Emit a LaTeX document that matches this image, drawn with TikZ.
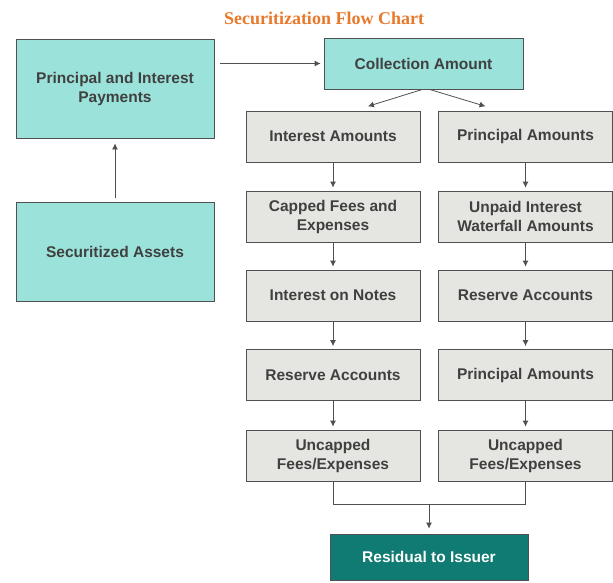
\documentclass[tikz,border=0pt]{standalone}
\usepackage{fontspec}
\setmainfont{Liberation Sans}
\newfontfamily\titlefont{Liberation Serif}
\usepackage{tikz}
\usetikzlibrary{arrows.meta,calc}
\definecolor{boxcyan}{HTML}{9BE3DA}
\definecolor{boxgray}{HTML}{E5E5E1}
\definecolor{boxteal}{HTML}{0F7B72}
\definecolor{edgegray}{HTML}{505050}
\definecolor{txtgray}{HTML}{404040}
\definecolor{titleorange}{HTML}{E8792B}
\tikzstyle{base}=[draw=edgegray,line width=0.8pt,align=center,inner sep=0pt,font=\bfseries\fontsize{15.5}{19}\selectfont]
\tikzstyle{cyanbox}=[base,fill=boxcyan,text=txtgray,minimum width=198pt]
\tikzstyle{graybox}=[base,fill=boxgray,text=txtgray,minimum width=174pt,minimum height=51pt]
\tikzstyle{tealbox}=[base,fill=boxteal,text=white,minimum width=198pt,minimum height=46pt]
\tikzstyle{flow}=[draw=edgegray,line width=0.8pt,-{Latex[length=6pt,width=6pt]},shorten >=3pt]

\begin{document}
\begin{tikzpicture}[x=1pt,y=-1pt]
\useasboundingbox (0,0) rectangle (613,582);
\node[font=\titlefont\bfseries\fontsize{18}{20}\selectfont,text=titleorange] at (324,18) (Title) {Securitization Flow Chart};
\node[cyanbox, minimum height=99pt] at (115,88.5) (Pay) {Principal and Interest\\Payments};
\node[cyanbox, minimum height=99pt] at (115,251.5) (Assets) {Securitized Assets};
\node[cyanbox, minimum width=199pt, minimum height=51pt] at (423.5,63.5) (Coll) {Collection Amount};
\node[graybox] at (333,136.5) (Int1) {Interest Amounts};
\node[graybox] at (333,216.5) (Int2) {Capped Fees and\\Expenses};
\node[graybox] at (333,295.5) (Int3) {Interest on Notes};
\node[graybox] at (333,375) (Int4) {Reserve Accounts};
\node[graybox] at (333,455.5) (Int5) {Uncapped\\Fees/Expenses};
\node[graybox] at (525.5,136.5) (Prin1) {Principal Amounts};
\node[graybox] at (525.5,216.5) (Prin2) {Unpaid Interest\\Waterfall Amounts};
\node[graybox] at (525.5,295.5) (Prin3) {Reserve Accounts};
\node[graybox] at (525.5,375) (Prin4) {Principal Amounts};
\node[graybox] at (525.5,455.5) (Prin5) {Uncapped\\Fees/Expenses};
\node[tealbox] at (429,557) (Res) {Residual to Issuer};
\coordinate (J) at (429,504);
\draw[flow, shorten <=4pt, shorten >=5pt] (Assets) -- (Pay);
\draw[flow, shorten <=6pt] (Pay.east |- Coll.west) -- (Coll.west);
\draw[flow, shorten >=1pt] ($(Coll.south)+(-1,0)$) -- ($(Int1.north)+(34,-4)$);
\draw[flow, shorten >=1pt] ($(Coll.south)+(6,0)$) -- ($(Prin1.north)+(-39,-4)$);
\draw[flow] (Int1) -- (Int2);
\draw[flow] (Int2) -- (Int3);
\draw[flow] (Int3) -- (Int4);
\draw[flow] (Int4) -- (Int5);
\draw[flow] (Prin1) -- (Prin2);
\draw[flow] (Prin2) -- (Prin3);
\draw[flow] (Prin3) -- (Prin4);
\draw[flow] (Prin4) -- (Prin5);
\draw[draw=edgegray, line width=0.8pt] (Int5.south) |- (J) -| (Prin5.south);
\draw[flow, shorten >=5pt] (J) -- (Res);
\end{tikzpicture}
\end{document}
